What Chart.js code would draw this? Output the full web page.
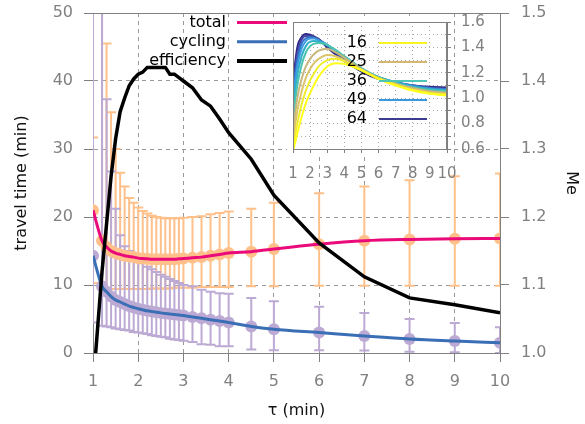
<!DOCTYPE html>
<html>
<head>
<meta charset="utf-8">
<script src="https://cdn.jsdelivr.net/npm/chart.js@4.4.1/dist/chart.umd.min.js"></script>
<style>
  html, body { margin: 0; padding: 0; background: #fff; }
  #wrap { position: relative; width: 585px; height: 424px; }
  #main { position: absolute; left: 0; top: 0; }
  #inset { position: absolute; left: 270px; top: 10px; }
</style>
</head>
<body>
<div id="wrap">
  <canvas id="main" width="585" height="424"></canvas>
  <canvas id="inset" width="240" height="180"></canvas>
</div>
<script>
// main chart data
const tau = [1, 1.2, 1.3, 1.4, 1.5, 1.6, 1.7, 1.8, 1.9, 2.0, 2.1, 2.2, 2.3, 2.4, 2.5, 2.6, 2.7, 2.8, 2.9, 3.0,
    3.2, 3.4, 3.6, 3.8, 4.0, 4.5, 5, 6, 7, 8, 9, 10];
const totalTime = [21.0, 16.5, 15.6, 15.0, 14.7, 14.5, 14.3, 14.2, 14.1, 13.95, 13.9, 13.85, 13.8, 13.8, 13.8, 13.8,
    13.8, 13.8, 13.85, 13.9, 14.0, 14.1, 14.3, 14.5, 14.7, 14.9, 15.3, 16.0, 16.5, 16.7, 16.8, 16.85];
const totalLow = [10.3, 9.5, 9.5, 9.4, 9.4, 9.4, 9.4, 9.4, 9.4, 9.4, 9.4, 9.4, 9.5, 9.5, 9.5, 9.5, 9.5, 9.6, 9.6, 9.6,
    9.6, 9.7, 9.7, 9.7, 9.7, 9.8, 9.8, 9.9, 9.9, 9.9, 9.9, 9.9];
const totalHigh = [31.7, 60, 45.5, 35.4, 30.0, 26.5, 24.5, 22.8, 22.1, 21.4, 20.9, 20.5, 20.2, 20.0, 19.9, 19.8,
    19.8, 19.8, 19.8, 19.9, 20.0, 20.1, 20.4, 20.6, 20.8, 21.2, 22.1, 23.5, 24.5, 25.4, 26.0, 26.4];
const cyclingTime = [14.3, 9.8, 9.0, 8.3, 7.8, 7.5, 7.2, 6.9, 6.7, 6.5, 6.35, 6.2, 6.1, 6.0, 5.9, 5.8, 5.75, 5.65,
    5.6, 5.5, 5.3, 5.1, 4.9, 4.7, 4.5, 3.9, 3.5, 3.0, 2.5, 2.05, 1.75, 1.5];
const cyclingLow = [4.5, 4.0, 3.9, 3.8, 3.6, 3.5, 3.4, 3.3, 3.1, 3.0, 2.9, 2.8, 2.6, 2.5, 2.4, 2.3, 2.1, 2.0, 1.9, 1.8,
    1.6, 1.3, 1.2, 1.0, 1.0, 0.5, 0.4, 0.4, 0.35, 0.2, 0.1, 0.0];
const cyclingHigh = [60, 60, 37.3, 26.7, 21.2, 17.3, 15.7, 15.0, 14.3, 13.7, 13.2, 12.7, 12.3, 11.9, 11.5, 11.2,
    10.9, 10.6, 10.3, 10.0, 9.8, 9.3, 9.0, 8.8, 8.7, 8.1, 7.6, 6.8, 5.9, 5.0, 4.4, 3.8];
const efficiency = [0.95, 1.12, 1.19, 1.26, 1.315, 1.355, 1.375, 1.393, 1.403, 1.41, 1.413, 1.42, 1.42, 1.42, 1.42,
    1.42, 1.41, 1.41, 1.405, 1.40, 1.39, 1.372, 1.363, 1.344, 1.324, 1.285, 1.232, 1.162, 1.112, 1.081, 1.071, 1.059];
const legendNames = ['total', 'cycling', 'efficiency'];

// inset data
const insetTau = [1, 1.25, 1.5, 1.75, 2, 2.25, 2.5, 3, 3.5, 4, 5, 6, 7, 8, 9, 10];
const insetCurves = [
    [0.58, 0.72, 0.85, 0.96, 1.04, 1.11, 1.17, 1.25, 1.275, 1.27, 1.22, 1.15, 1.10, 1.06, 1.035, 1.02],
    [0.60, 0.80, 0.95, 1.06, 1.14, 1.20, 1.25, 1.30, 1.31, 1.29, 1.22, 1.155, 1.105, 1.065, 1.04, 1.03],
    [0.66, 0.90, 1.05, 1.16, 1.23, 1.28, 1.31, 1.34, 1.33, 1.30, 1.225, 1.155, 1.11, 1.07, 1.045, 1.035],
    [0.74, 1.00, 1.15, 1.25, 1.31, 1.35, 1.375, 1.39, 1.36, 1.32, 1.23, 1.16, 1.115, 1.08, 1.055, 1.045],
    [0.83, 1.10, 1.26, 1.36, 1.41, 1.43, 1.435, 1.42, 1.38, 1.33, 1.235, 1.165, 1.12, 1.085, 1.065, 1.055],
    [0.92, 1.18, 1.33, 1.41, 1.445, 1.45, 1.445, 1.42, 1.37, 1.33, 1.235, 1.165, 1.125, 1.09, 1.07, 1.06],
    [1.00, 1.25, 1.39, 1.45, 1.47, 1.47, 1.455, 1.42, 1.37, 1.32, 1.23, 1.165, 1.125, 1.095, 1.075, 1.065],
    [1.04, 1.30, 1.43, 1.47, 1.48, 1.475, 1.46, 1.42, 1.365, 1.315, 1.225, 1.165, 1.125, 1.10, 1.08, 1.07],
    [1.08, 1.35, 1.46, 1.49, 1.49, 1.48, 1.465, 1.41, 1.36, 1.31, 1.22, 1.16, 1.125, 1.10, 1.085, 1.075],
    [1.13, 1.40, 1.48, 1.505, 1.50, 1.485, 1.465, 1.40, 1.345, 1.295, 1.21, 1.15, 1.12, 1.10, 1.09, 1.085]
];
const insetColors = ['#ffff1a', '#f0ec2c', '#dcc468', '#c8b67c', '#4cc4b0', '#2fb0c8', '#3d9ae0', '#2f72c8', '#4646a4', '#2e2a86'];
const insetLegend = ['16', '25', '36', '49', '64'];
const insetLegendColors = ['#f7f71f', '#d4b870', '#4ec5b5', '#3a98e0', '#3c3c90'];

const ORANGE = '#ffc08a';
const LILAC = '#bcaad4';
const PINK = '#ea0a7a';
const BLUE = '#3a6fb5';
const GREY = '#808080';

Chart.defaults.font.family = 'DejaVu Sans';
Chart.defaults.font.size = 16;
Chart.defaults.color = GREY;

const pts = (xs, ys) => xs.map((x, i) => ({ x: x, y: ys[i] }));

// drop the automatic label padding so the plot box lands where we want it
function noPad(s) {
    s.paddingTop = 0; s.paddingBottom = 0; s.paddingLeft = 0; s.paddingRight = 0;
}

function drawBars(ctx, xs, ys, lo, hi, color) {
    ctx.strokeStyle = color;
    ctx.lineWidth = 2;
    for (let i = 0; i < tau.length; i++) {
        const px = xs.getPixelForValue(tau[i]);
        const top = ys.getPixelForValue(hi[i]);
        const bot = ys.getPixelForValue(lo[i]);
        ctx.beginPath();
        ctx.moveTo(px, top); ctx.lineTo(px, bot);
        ctx.moveTo(px - 5, top); ctx.lineTo(px + 5, top);
        ctx.moveTo(px - 5, bot); ctx.lineTo(px + 5, bot);
        ctx.stroke();
    }
}

const errorBars = {
    id: 'errorBars',
    beforeDatasetsDraw(chart) {
        const { ctx, chartArea: a, scales } = chart;
        ctx.save();
        ctx.beginPath();
        ctx.rect(a.left, a.top, a.width, a.height);
        ctx.clip();
        drawBars(ctx, scales.x, scales.y, totalLow, totalHigh, ORANGE);
        drawBars(ctx, scales.x, scales.y, cyclingLow, cyclingHigh, LILAC);
        ctx.restore();
        // top frame line
        ctx.save();
        ctx.strokeStyle = GREY;
        ctx.lineWidth = 1;
        ctx.beginPath();
        ctx.moveTo(a.left, a.top + 0.5);
        ctx.lineTo(a.right, a.top + 0.5);
        ctx.stroke();
        ctx.restore();
    }
};

const mainLegend = {
    id: 'mainLegend',
    afterDraw(chart) {
        const ctx = chart.ctx;
        const colors = [PINK, BLUE, '#000'];
        const widths = [3, 3, 4];
        ctx.save();
        ctx.font = '16px "DejaVu Sans"';
        ctx.textAlign = 'right';
        ctx.textBaseline = 'middle';
        legendNames.forEach((name, i) => {
            const y = 22.5 + i * 19.3;
            ctx.fillStyle = '#000';
            ctx.fillText(name, 226, y);
            ctx.strokeStyle = colors[i];
            ctx.lineWidth = widths[i];
            ctx.beginPath();
            ctx.moveTo(237, y); ctx.lineTo(287, y);
            ctx.stroke();
        });
        ctx.restore();
    }
};

new Chart(document.getElementById('main'), {
    type: 'scatter',
    data: {
        datasets: [
            {
                data: pts(tau, totalTime), showLine: false, pointRadius: 6, pointBackgroundColor: ORANGE,
                pointBorderWidth: 0, order: 5
            },
            {
                data: pts(tau, cyclingTime), showLine: false, pointRadius: 6, pointBackgroundColor: LILAC,
                pointBorderWidth: 0, order: 4
            },
            {
                data: pts(tau, totalTime), showLine: true, pointRadius: 0, borderColor: PINK, borderWidth: 3,
                tension: 0.4, cubicInterpolationMode: 'monotone', order: 3
            },
            {
                data: pts(tau, cyclingTime), showLine: true, pointRadius: 0, borderColor: BLUE, borderWidth: 3,
                tension: 0.4, cubicInterpolationMode: 'monotone', order: 2
            },
            {
                data: pts(tau, efficiency), yAxisID: 'y2', showLine: true, pointRadius: 0, borderColor: '#000',
                borderWidth: 3.5, tension: 0, clip: 0, order: 1
            }
        ]
    },
    options: {
        responsive: false,
        animation: false,
        layout: { padding: { top: 13 } },
        plugins: { legend: { display: false }, tooltip: { enabled: false } },
        scales: {
            x: {
                type: 'linear', min: 1, max: 10,
                ticks: { stepSize: 1, padding: 10, color: GREY },
                grid: { color: '#999', tickLength: 9, tickColor: GREY },
                border: { display: true, color: GREY, dash: [4, 4] },
                title: { display: true, text: 'τ (min)', color: '#111', padding: { top: 4, bottom: 4 } },
                afterFit(s) { s.height = 71; noPad(s); }
            },
            y: {
                position: 'left', min: 0, max: 50,
                ticks: { stepSize: 10, padding: 11, color: GREY },
                grid: { color: '#999', tickLength: 9, tickColor: GREY },
                border: { display: true, color: GREY, dash: [4, 4] },
                title: { display: true, text: 'travel time (min)', color: '#111', padding: { top: 12, bottom: 4 } },
                afterFit(s) { s.width = 93; noPad(s); }
            },
            y2: {
                position: 'right', min: 1, max: 1.5,
                ticks: { stepSize: 0.1, padding: 12, color: GREY, callback: v => Number(v).toFixed(1) },
                grid: { drawOnChartArea: false, tickLength: 9, tickColor: GREY },
                border: { display: true, color: GREY },
                title: { display: true, text: 'Me', color: '#111', padding: { top: 4, bottom: 4 } },
                afterFit(s) { s.width = 85; noPad(s); }
            }
        }
    },
    plugins: [errorBars, mainLegend]
});

const insetFrame = {
    id: 'insetFrame',
    beforeDraw(chart) {
        const { ctx, chartArea: a } = chart;
        ctx.save();
        ctx.fillStyle = '#fff';
        ctx.fillRect(a.left - 6, a.top - 6, a.width + 12, a.height + 12);
        ctx.restore();
    },
    afterDraw(chart) {
        const { ctx, chartArea: a } = chart;
        ctx.save();
        ctx.strokeStyle = GREY;
        ctx.lineWidth = 1;
        ctx.strokeRect(a.left + 0.5, a.top + 0.5, a.width - 1, a.height);
        ctx.font = '16px "DejaVu Sans"';
        ctx.textAlign = 'right';
        ctx.textBaseline = 'middle';
        insetLegend.forEach((name, i) => {
            const y = 33 + i * 19;
            ctx.fillStyle = '#000';
            ctx.fillText(name, 97, y);
            ctx.strokeStyle = insetLegendColors[i];
            ctx.lineWidth = 2;
            ctx.beginPath();
            ctx.moveTo(109, y); ctx.lineTo(157, y);
            ctx.stroke();
        });
        ctx.restore();
    }
};

new Chart(document.getElementById('inset'), {
    type: 'scatter',
    data: {
        datasets: insetCurves.map((c, i) => ({
            data: pts(insetTau, c), showLine: true, pointRadius: 0, borderColor: insetColors[i],
            borderWidth: 2, tension: 0.4, cubicInterpolationMode: 'monotone'
        }))
    },
    options: {
        responsive: false,
        animation: false,
        layout: { padding: { left: 23, top: 12 } },
        plugins: { legend: { display: false }, tooltip: { enabled: false } },
        scales: {
            x: {
                type: 'linear', min: 1, max: 10,
                ticks: { stepSize: 1, padding: 12, color: GREY, font: { size: 15 }, autoSkip: false, maxRotation: 0, minRotation: 0 },
                grid: { color: '#aaa', tickLength: 4, tickColor: GREY },
                border: { display: true, color: GREY, dash: [1, 3] },
                afterFit(s) { s.height = 41; noPad(s); }
            },
            y: {
                position: 'right', min: 0.6, max: 1.6,
                ticks: {
                    stepSize: 0.1, padding: 10, color: GREY, font: { size: 15 }, autoSkip: false,
                    callback: v => (Math.round(v * 10) % 2 === 0 ? Number(v).toFixed(1) : '')
                },
                grid: { color: '#aaa', tickLength: 4, tickColor: GREY },
                border: { display: true, color: GREY, dash: [1, 3] },
                afterFit(s) { s.width = 63; noPad(s); }
            }
        }
    },
    plugins: [insetFrame]
});
</script>
</body>
</html>
